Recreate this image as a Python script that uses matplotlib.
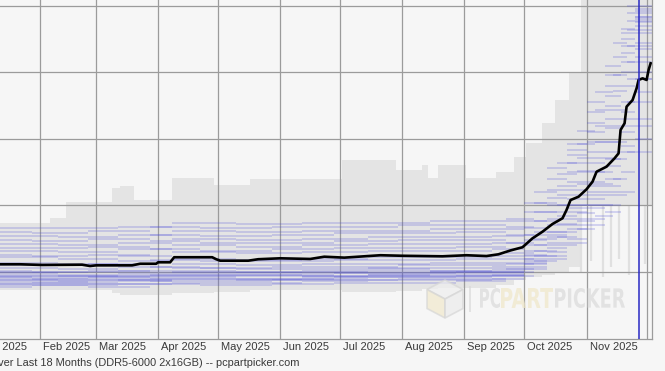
#! /usr/bin/env python

import numpy as np
import matplotlib
matplotlib.use('Agg')
import matplotlib.pyplot as plt
import matplotlib.dates as mdates
from matplotlib.transforms import blended_transform_factory, ScaledTranslation, Affine2D
from matplotlib.textpath import TextPath
from matplotlib.patches import PathPatch, Polygon, Rectangle
from matplotlib.font_manager import FontProperties

# Average price (black line)
avg_dates = ['2025-01-12', '2025-01-22', '2025-02-02', '2025-02-22', '2025-02-26', '2025-03-01',
             '2025-03-19', '2025-03-23', '2025-03-31', '2025-04-01', '2025-04-07', '2025-04-09',
             '2025-04-28', '2025-04-30', '2025-05-02', '2025-05-16', '2025-05-21', '2025-06-01',
             '2025-06-16', '2025-06-23', '2025-07-03', '2025-07-08', '2025-07-21', '2025-08-01',
             '2025-08-21', '2025-09-02', '2025-09-12', '2025-09-18', '2025-09-24', '2025-09-30',
             '2025-10-05', '2025-10-10', '2025-10-15', '2025-10-20', '2025-10-22', '2025-10-24',
             '2025-10-28', '2025-11-01', '2025-11-04', '2025-11-06', '2025-11-11', '2025-11-15',
             '2025-11-17', '2025-11-18', '2025-11-20', '2025-11-21', '2025-11-24', '2025-11-26',
             '2025-11-27', '2025-11-29', '2025-12-01', '2025-12-02', '2025-12-03']
avg_price = [105.8, 105.8, 105.3, 105.5, 104.5, 105.0,
             105.0, 106.2, 106.2, 107.3, 107.3, 111.1,
             111.1, 109.6, 108.5, 108.5, 109.6, 110.3,
             109.8, 111.5, 110.8, 111.3, 112.6, 112.2,
             111.8, 112.6, 112.0, 113.3, 116.2, 118.6,
             125.3, 130.3, 136.1, 140.4, 146.6, 154.1,
             156.6, 162.2, 167.9, 175.4, 179.2, 185.5,
             189.2, 206.8, 211.8, 224.3, 229.3, 238.1,
             244.4, 245.6, 244.4, 251.9, 256.9]

# Min / max price range (grey area)
env_dates = ['2025-01-12', '2025-02-06', '2025-02-14', '2025-03-09', '2025-03-13', '2025-03-20',
             '2025-04-08', '2025-04-29', '2025-05-17', '2025-07-02', '2025-07-29', '2025-08-11',
             '2025-08-14', '2025-08-19', '2025-09-02', '2025-09-17', '2025-09-26', '2025-10-02',
             '2025-10-10', '2025-10-16', '2025-10-23', '2025-10-29', '2025-12-04']
env_high = [136.8, 140.6, 152.6, 163.2, 164.7, 154.1,
            170.7, 165.4, 169.9, 184.2, 176.7, 180.4,
            170.7, 180.4, 170.7, 175.2, 186.5, 197.0,
            212.0, 229.3, 250.4, 320.0, 320.0]
env_low = [86.5, 86.5, 86.5, 84.0, 83.0, 83.0,
           84.0, 85.0, 86.5, 85.0, 86.0, 87.0,
           87.0, 88.0, 88.0, 90.0, 94.0, 96.0,
           98.0, 100.0, 104.0, 150.0, 150.0]

# Short drops below the range in November
drop_dates = ['2025-10-29', '2025-11-03', '2025-11-09', '2025-11-13', '2025-11-17', '2025-11-22', '2025-11-30']
drop_low = [100, 108, 96, 104, 110, 98, 106]

# Individual retailer prices (blue lines), two groups with different change dates
seg_dates_a = ['2025-01-12', '2025-02-10', '2025-03-12', '2025-04-08', '2025-05-10', '2025-06-12',
               '2025-07-15', '2025-08-15', '2025-09-15', '2025-10-01', '2025-10-12', '2025-10-22',
               '2025-11-01', '2025-11-10', '2025-11-18', '2025-11-25', '2025-12-04']
retailers_a = [
    [92, 92, 93, 95, 94, 95, 96, 96, 97, 104, 112, 125, 140, 150, 175, 215],
    [94, 93, 94, 96, 95, 96, 97, 97, 98, 106, 118, 132, 148, 160, 190, 235],
    [95, 95, 96, 97, 97, 97, 98, 98, 99, 108, 122, 140, 155, 170, 205, 250],
    [97, 96, 97, 99, 98, 99, 99, 100, 100, 110, 126, 145, 160, 180, 215, 262],
    [98, 98, 99, 100, 100, 101, 101, 101, 102, 113, 130, 150, 168, 190, 228, 272],
    [100, 100, 101, 103, 102, 102, 103, 103, 104, 116, 135, 155, 175, 198, 240, 280],
    [103, 102, 104, 106, 105, 106, 106, 107, 107, 120, 140, 162, 182, 208, 250, 288],
    [107, 106, 108, 110, 109, 110, 111, 111, 112, 124, 145, 168, 190, 215, 258, 292],
    [111, 110, 112, 115, 114, 115, 116, 116, 117, 128, 150, 175, 198, 225, 265, 296],
    [116, 115, 117, 120, 119, 120, 121, 121, 122, 133, 156, 182, 205, 232, 270, 298],
    [121, 120, 122, 125, 124, 125, 126, 126, 127, 138, 162, 188, 212, 240, 275, 290],
    [127, 126, 128, 131, 130, 131, 131, 132, 132, 145, 170, 192, 220, 248, 280, 285],
    [133, 133, 134, 137, 136, 137, 137, 138, 138, 152, 178, 196, 228, 255, 283, 292],
    [90, 90, 91, 92, 92, 93, 94, 94, 95, 102, 110, 122, 135, 145, 160, 200],
    [96, 97, 95, 98, 99, 97, 98, 99, 98, 107, 115, 135, 150, 165, 195, 245],
    [99, 97, 98, 101, 100, 100, 102, 101, 101, 112, 128, 148, 165, 185, 220, 268],
]
seg_dates_b = ['2025-01-12', '2025-01-28', '2025-02-25', '2025-03-28', '2025-04-22', '2025-05-28',
               '2025-06-28', '2025-07-30', '2025-08-28', '2025-09-22', '2025-10-06', '2025-10-17',
               '2025-10-27', '2025-11-05', '2025-11-14', '2025-11-21', '2025-12-04']
retailers_b = [
    [89, 90, 89, 91, 90, 91, 92, 92, 93, 97, 108, 120, 132, 142, 158, 190],
    [91, 92, 91, 93, 93, 94, 94, 95, 95, 100, 112, 126, 138, 150, 170, 210],
    [93, 93, 94, 95, 95, 95, 96, 96, 97, 102, 116, 130, 144, 158, 185, 228],
    [96, 95, 96, 98, 98, 98, 99, 99, 100, 106, 120, 136, 150, 166, 198, 245],
    [101, 100, 101, 104, 103, 104, 104, 105, 105, 110, 125, 142, 158, 175, 210, 258],
    [105, 105, 106, 109, 108, 108, 109, 109, 110, 114, 130, 150, 166, 186, 222, 270],
    [113, 112, 113, 117, 116, 117, 118, 118, 119, 122, 138, 158, 176, 198, 236, 282],
    [118, 118, 119, 123, 122, 122, 123, 124, 124, 128, 145, 165, 186, 210, 248, 289],
    [124, 123, 125, 128, 127, 128, 129, 129, 130, 134, 152, 174, 196, 222, 262, 295],
    [130, 129, 131, 134, 133, 134, 134, 135, 135, 140, 160, 182, 206, 235, 272, 300],
]

month_starts = ['2025-01-01', '2025-02-01', '2025-03-01', '2025-04-01', '2025-05-01', '2025-06-01',
                '2025-07-01', '2025-08-01', '2025-09-01', '2025-10-01', '2025-11-01', '2025-12-01']
month_labels = ['Jan 2025', 'Feb 2025', 'Mar 2025', 'Apr 2025', 'May 2025', 'Jun 2025',
                'Jul 2025', 'Aug 2025', 'Sep 2025', 'Oct 2025', 'Nov 2025']
price_grid = [100, 150, 200, 250, 300]
marker_date = '2025-11-27'
title = 'Price History Over Last 18 Months (DDR5-6000 2x16GB) -- pcpartpicker.com'


def to_num(lst):
    return mdates.date2num(np.array(lst, dtype='datetime64[D]'))


W, H = 665, 371
BG = '#f6f6f6'
GRID = '#9b9b9b'

fig = plt.figure(figsize=(W / 100, H / 100), dpi=100, facecolor=BG)
ax = fig.add_axes([0, 32.5 / H, 652 / W, 338.5 / H], facecolor=BG)

d0 = mdates.date2num(np.datetime64('2025-01-01'))
ax.set_xlim(d0 + 11.0, d0 + 336.7)
ax.set_ylim(50, 304.5)

# Grey price range
ax.fill_between(to_num(env_dates), env_low, env_high, step='post', color='#e4e4e4', lw=0, zorder=1)
ax.vlines(to_num(drop_dates), drop_low, 150, color='#e0e0e0', lw=1.6, zorder=1)

# Retailer prices
for seg_dates, group in [(seg_dates_a, retailers_a), (seg_dates_b, retailers_b)]:
    sx = to_num(seg_dates)
    for prices in group:
        ax.hlines(prices, sx[:-1], sx[1:], color='#5050d8', alpha=0.22, lw=1.4, zorder=2)

# Average price
ax.plot(to_num(avg_dates), avg_price, color='black', lw=1.9, zorder=4)

# Marker line
ax.axvline(to_num([marker_date])[0], color='#2a2ac4', lw=1.1, zorder=5)

# Grid
ms = to_num(month_starts)
for m in ms[1:]:
    ax.axvline(m, color=GRID, lw=0.9, zorder=1.5)
for p in price_grid:
    ax.axhline(p, color=GRID, lw=0.9, zorder=1.5)

ax.set_xticks([])
ax.set_yticks([])
for side in ['left', 'top']:
    ax.spines[side].set_visible(False)
for side in ['bottom', 'right']:
    ax.spines[side].set_color(GRID)
    ax.spines[side].set_linewidth(0.9)

# Month labels, left aligned just after the month line
trans = blended_transform_factory(ax.transData, ax.transAxes) + \
    ScaledTranslation(0.03, 0, fig.dpi_scale_trans)
for m, lab in zip(ms, month_labels):
    ax.text(m, -0.0255, lab, transform=trans, ha='left', va='center', fontsize=8,
            family='Liberation Sans', color='#3a3a3a', clip_on=False)

fig.text(299 / W, 8 / H, title, ha='right', va='center', fontsize=7.9,
         family='Liberation Sans', color='#3a3a3a')


# Watermark logo
def add_word(word, x0, x1, y0, y1, color):
    tp = TextPath((0, 0), word, size=20, prop=FontProperties(family='DejaVu Sans', weight='bold'))
    e = tp.get_extents()
    tr = Affine2D().translate(-e.x0, -e.y0).scale((x1 - x0) / e.width, (y1 - y0) / e.height) \
        .translate(x0, H - y1)
    fig.add_artist(PathPatch(tp, transform=tr, facecolor=color, edgecolor='none', alpha=0.7, zorder=3))


add_word('PC', 480, 500, 288, 308, '#dadada')
add_word('PART', 501, 553, 288, 308, '#efe7c8')
add_word('PICKER', 555, 625, 288, 308, '#dadada')

cx, cy, hw, hh = 445, H - 299, 18, 19
top = (cx, cy + hh)
ur = (cx + hw, cy + hh / 2)
lr = (cx + hw, cy - hh / 2)
bot = (cx, cy - hh)
ll = (cx - hw, cy - hh / 2)
ul = (cx - hw, cy + hh / 2)
ctr = (cx, cy)
id_tr = Affine2D()
for verts, fc in [([top, ur, ctr, ul], '#eeeeee'),
                  ([ul, ctr, bot, ll], '#f1e9cc'),
                  ([ctr, ur, lr, bot], '#ececec')]:
    fig.add_artist(Polygon(verts, closed=True, facecolor=fc, edgecolor='#d6d6d6', lw=1.2,
                           transform=id_tr, alpha=0.7, zorder=3))
fig.add_artist(Rectangle((469, H - 312), 2, 26, transform=id_tr, facecolor='#dadada',
                         edgecolor='none', alpha=0.7, zorder=3))

fig.savefig('out.png', dpi=100, facecolor=BG)
